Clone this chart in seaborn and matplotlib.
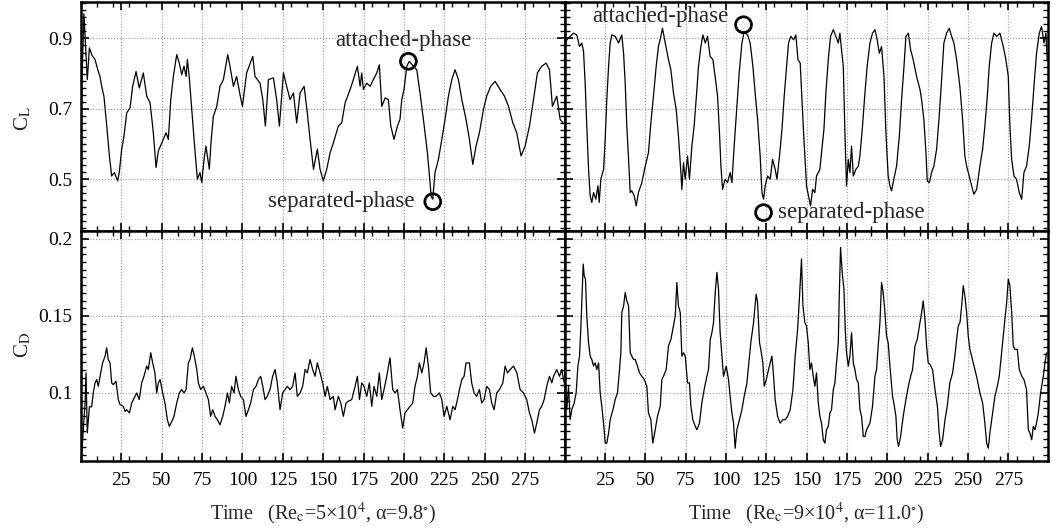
import numpy as np
import pandas as pd
import matplotlib
matplotlib.use("Agg")
import matplotlib.pyplot as plt
from matplotlib.ticker import FixedLocator, MultipleLocator, FixedFormatter
import seaborn as sns

# ---------------- data ----------------
# Top-left: C_L, Re_c = 5e4, alpha = 9.8 deg
tl_t = [0.3, 1.8, 3.9, 5.2, 6.6, 8.7, 10.7, 11.8, 12.8, 14.2,
        15.5, 17.6, 19.0, 20.7, 22.7, 23.7, 25.2, 26.6, 28.3, 30.4,
        32.0, 34.1, 36.1, 38.6, 40.7, 42.8, 44.8, 46.5, 47.9, 50.0,
        52.7, 54.1, 55.6, 57.2, 59.3, 60.9, 62.4, 63.8, 65.1, 65.9,
        67.1, 68.6, 70.2, 72.1, 73.7, 74.8, 76.2, 77.4, 79.5, 80.5,
        82.0, 84.1, 86.1, 88.2, 90.9, 92.3, 94.4, 96.4, 98.5, 100.0,
        102.6, 106.4, 107.8, 110.9, 112.6, 114.2, 116.1, 119.2, 121.2, 122.9,
        125.4, 127.4, 129.5, 131.6, 133.6, 135.7, 138.2, 140.2, 141.9, 144.0,
        146.4, 148.1, 150.1, 152.2, 154.3, 156.3, 159.4, 161.5, 163.6, 166.7,
        168.7, 171.2, 172.9, 173.9, 174.9, 177.0, 179.1, 181.1, 183.2, 184.8,
        186.3, 188.4, 190.4, 191.9, 193.9, 196.0, 197.6, 198.7, 200.1, 201.8,
        203.4, 205.9, 208.0, 210.0, 212.1, 214.6, 216.9, 217.9, 219.3, 221.4,
        223.5, 225.5, 227.6, 229.7, 231.7, 233.8, 235.9, 238.5, 240.6, 242.7,
        244.7, 246.8, 249.3, 251.3, 253.8, 256.5, 259.6, 262.3, 264.8, 267.5,
        269.9, 272.6, 275.1, 277.8, 280.3, 282.7, 285.4, 288.1, 290.2, 292.0,
        294.7, 296.8, 298.5]
tl_cl = [0.73, 0.97, 0.783, 0.873, 0.854, 0.840, 0.806, 0.792, 0.764, 0.736,
         0.674, 0.566, 0.509, 0.519, 0.495, 0.519, 0.585, 0.622, 0.688, 0.703,
         0.764, 0.806, 0.759, 0.802, 0.736, 0.717, 0.632, 0.533, 0.580, 0.603,
         0.632, 0.613, 0.726, 0.792, 0.854, 0.830, 0.797, 0.821, 0.792, 0.840,
         0.788, 0.698, 0.603, 0.500, 0.519, 0.490, 0.556, 0.594, 0.528, 0.603,
         0.679, 0.707, 0.764, 0.783, 0.854, 0.821, 0.764, 0.792, 0.740, 0.707,
         0.802, 0.849, 0.792, 0.773, 0.726, 0.651, 0.783, 0.788, 0.726, 0.651,
         0.802, 0.764, 0.726, 0.745, 0.660, 0.745, 0.764, 0.688, 0.613, 0.528,
         0.585, 0.528, 0.495, 0.528, 0.575, 0.603, 0.651, 0.660, 0.717, 0.755,
         0.783, 0.821, 0.764, 0.802, 0.755, 0.773, 0.764, 0.783, 0.802, 0.825,
         0.707, 0.731, 0.726, 0.651, 0.613, 0.651, 0.670, 0.726, 0.755, 0.821,
         0.835, 0.821, 0.811, 0.745, 0.670, 0.575, 0.452, 0.443, 0.519, 0.556,
         0.613, 0.670, 0.736, 0.783, 0.811, 0.783, 0.726, 0.670, 0.613, 0.542,
         0.594, 0.632, 0.698, 0.736, 0.764, 0.778, 0.755, 0.736, 0.707, 0.660,
         0.632, 0.566, 0.594, 0.651, 0.726, 0.802, 0.821, 0.830, 0.811, 0.707,
         0.736, 0.670, 0.660]

# Top-right: C_L, Re_c = 9e4, alpha = 11.0 deg
tr_t = [0.0, 1.4, 3.5, 5.6, 7.6, 9.3, 10.7, 11.8, 12.8, 13.8,
        14.9, 15.9, 16.9, 18.0, 19.4, 20.7, 21.5, 22.5, 24.2, 25.2,
        26.2, 27.3, 28.3, 29.3, 31.4, 33.5, 35.5, 36.6, 37.6, 38.6,
        39.7, 40.7, 41.7, 43.2, 44.4, 45.8, 47.9, 50.0, 52.0, 53.5,
        55.1, 56.8, 58.2, 59.7, 60.7, 62.4, 64.4, 65.9, 67.5, 69.2,
        70.6, 72.1, 72.7, 73.7, 74.8, 76.2, 77.4, 78.9, 80.3, 82.0,
        83.0, 84.5, 85.7, 87.2, 88.6, 90.2, 91.9, 93.3, 94.8, 96.0,
        96.9, 97.9, 99.5, 101.0, 102.6, 103.7, 105.1, 106.8, 108.2, 109.9,
        111.3, 113.4, 115.0, 116.7, 118.1, 119.6, 121.2, 122.3, 123.3, 124.3,
        125.8, 127.4, 128.9, 130.5, 131.6, 133.2, 134.7, 136.1, 137.4, 138.8,
        140.2, 141.9, 143.3, 144.6, 146.0, 148.1, 149.9, 151.6, 152.4, 153.7,
        155.1, 156.1, 157.2, 158.2, 159.2, 160.7, 161.9, 163.4, 164.8, 166.5,
        168.1, 169.6, 170.6, 171.6, 172.7, 173.7, 174.7, 175.8, 176.8, 177.8,
        178.9, 180.5, 182.0, 183.0, 184.6, 186.1, 187.5, 189.2, 190.8, 192.3,
        193.7, 195.0, 196.4, 197.9, 199.1, 200.5, 201.6, 202.6, 204.0, 205.7,
        207.4, 208.8, 210.3, 211.5, 213.0, 214.4, 216.0, 218.1, 220.2, 221.2,
        222.6, 223.9, 224.7, 226.0, 227.4, 228.8, 230.5, 232.1, 233.6, 235.0,
        236.7, 238.3, 239.8, 241.2, 242.9, 244.9, 246.6, 248.0, 249.1, 250.7,
        252.2, 253.6, 255.3, 257.3, 259.0, 260.4, 261.9, 263.1, 264.6, 266.0,
        267.7, 269.7, 271.8, 273.4, 274.9, 275.9, 277.0, 278.4, 280.0, 281.7,
        283.2, 284.6, 286.2, 287.9, 289.3, 290.8, 292.4, 294.1, 295.5, 297.0,
        298.2, 299.0]
tr_cl = [0.877, 0.896, 0.906, 0.915, 0.910, 0.877, 0.887, 0.863, 0.773, 0.651,
         0.528, 0.452, 0.434, 0.462, 0.443, 0.481, 0.434, 0.500, 0.528, 0.613,
         0.726, 0.821, 0.887, 0.910, 0.906, 0.887, 0.910, 0.858, 0.773, 0.651,
         0.556, 0.462, 0.467, 0.452, 0.424, 0.462, 0.490, 0.537, 0.575, 0.660,
         0.736, 0.821, 0.877, 0.906, 0.929, 0.887, 0.840, 0.811, 0.745, 0.698,
         0.622, 0.519, 0.471, 0.547, 0.500, 0.566, 0.500, 0.594, 0.651, 0.755,
         0.821, 0.877, 0.910, 0.887, 0.906, 0.849, 0.840, 0.792, 0.736, 0.632,
         0.537, 0.471, 0.500, 0.490, 0.519, 0.490, 0.594, 0.707, 0.802, 0.887,
         0.920, 0.910, 0.887, 0.821, 0.745, 0.670, 0.566, 0.462, 0.443, 0.481,
         0.509, 0.500, 0.556, 0.528, 0.500, 0.566, 0.641, 0.736, 0.811, 0.887,
         0.906, 0.896, 0.910, 0.840, 0.830, 0.632, 0.481, 0.443, 0.424, 0.471,
         0.462, 0.509, 0.519, 0.528, 0.575, 0.641, 0.745, 0.840, 0.906, 0.925,
         0.906, 0.887, 0.915, 0.868, 0.821, 0.632, 0.481, 0.556, 0.519, 0.594,
         0.509, 0.528, 0.537, 0.566, 0.651, 0.745, 0.821, 0.887, 0.915, 0.925,
         0.896, 0.858, 0.877, 0.792, 0.632, 0.509, 0.481, 0.467, 0.500, 0.537,
         0.622, 0.726, 0.821, 0.906, 0.915, 0.868, 0.840, 0.792, 0.755, 0.726,
         0.670, 0.575, 0.495, 0.490, 0.519, 0.537, 0.585, 0.679, 0.783, 0.887,
         0.915, 0.929, 0.906, 0.887, 0.840, 0.764, 0.670, 0.566, 0.537, 0.509,
         0.481, 0.457, 0.471, 0.537, 0.585, 0.651, 0.736, 0.821, 0.887, 0.915,
         0.906, 0.915, 0.877, 0.840, 0.792, 0.651, 0.556, 0.509, 0.500, 0.462,
         0.443, 0.519, 0.537, 0.594, 0.670, 0.764, 0.858, 0.915, 0.934, 0.887,
         0.915, 0.840]

# Bottom-left: C_D, Re_c = 5e4
bl_t = [0.4, 1.4, 2.5, 3.1, 3.9, 5.2, 6.6, 7.6, 8.7, 9.7,
        10.7, 12.2, 13.4, 14.9, 15.9, 16.9, 18.0, 19.0, 20.0, 21.7,
        23.1, 24.2, 26.2, 27.3, 28.3, 30.0, 31.4, 33.5, 34.5, 36.1,
        37.6, 39.0, 40.7, 41.7, 43.2, 44.4, 45.8, 46.9, 47.9, 49.0,
        50.6, 52.0, 53.5, 54.7, 56.2, 57.6, 59.3, 60.9, 62.4, 63.8,
        65.1, 66.5, 67.5, 69.0, 70.2, 71.7, 72.7, 74.1, 75.8, 77.4,
        78.9, 80.3, 81.6, 83.0, 84.5, 86.1, 87.8, 89.2, 90.7, 91.9,
        93.3, 94.8, 96.0, 97.5, 98.9, 100.6, 102.2, 103.7, 105.1, 106.8,
        108.4, 109.9, 111.3, 112.6, 114.0, 115.4, 117.1, 118.7, 120.2, 121.6,
        123.3, 124.9, 126.4, 127.8, 129.5, 131.1, 132.6, 134.0, 135.7, 137.3,
        138.8, 140.2, 141.9, 143.5, 145.0, 146.4, 148.1, 149.7, 151.2, 152.6,
        154.3, 156.3, 157.4, 159.4, 160.9, 162.5, 164.2, 165.6, 167.7, 169.8,
        171.2, 172.5, 173.9, 175.3, 177.0, 178.6, 180.1, 181.5, 183.2, 184.8,
        186.3, 187.7, 189.4, 191.4, 193.1, 194.5, 196.0, 197.6, 199.3, 200.7,
        202.2, 203.8, 205.5, 206.9, 208.4, 209.6, 211.1, 212.5, 213.8, 215.2,
        216.6, 218.3, 219.9, 222.0, 223.5, 224.9, 226.6, 228.6, 230.3, 231.7,
        233.2, 234.4, 235.9, 237.3, 238.5, 240.6, 242.0, 243.5, 245.1, 246.8,
        248.2, 249.7, 251.3, 253.0, 254.4, 255.9, 257.5, 259.2, 261.3, 262.7,
        264.2, 265.8, 267.9, 270.0, 272.0, 274.1, 276.1, 277.8, 279.2, 280.9,
        282.3, 284.0, 285.4, 286.9, 288.5, 290.2, 291.6, 292.7, 294.7, 296.4,
        297.8, 299.3]
bl_cd = [0.059, 0.076, 0.093, 0.113, 0.074, 0.091, 0.091, 0.100, 0.1065, 0.1087,
         0.1043, 0.113, 0.1195, 0.1239, 0.1293, 0.1217, 0.1195, 0.1065, 0.1054, 0.1076,
         0.0957, 0.0924, 0.0913, 0.088, 0.0891, 0.087, 0.0935, 0.0978, 0.100, 0.0957,
         0.1065, 0.1108, 0.1174, 0.1152, 0.1261, 0.1195, 0.113, 0.100, 0.1065, 0.1087,
         0.100, 0.0935, 0.0826, 0.0783, 0.0815, 0.0848, 0.0935, 0.100, 0.1022, 0.100,
         0.1022, 0.1195, 0.1217, 0.1293, 0.1239, 0.1152, 0.1065, 0.1022, 0.1043, 0.100,
         0.0957, 0.0848, 0.0891, 0.0848, 0.0826, 0.0793, 0.0848, 0.0913, 0.100, 0.0935,
         0.1043, 0.100, 0.1108, 0.1022, 0.0978, 0.0957, 0.0848, 0.0891, 0.0935, 0.1022,
         0.1043, 0.1087, 0.1108, 0.1043, 0.0957, 0.0978, 0.1022, 0.1108, 0.1152, 0.1065,
         0.0891, 0.100, 0.1022, 0.1043, 0.1022, 0.1043, 0.113, 0.0978, 0.100, 0.1043,
         0.1152, 0.113, 0.1217, 0.1152, 0.1108, 0.1195, 0.113, 0.1065, 0.0978, 0.1043,
         0.0957, 0.0978, 0.0891, 0.0978, 0.0935, 0.0848, 0.0935, 0.0946, 0.0957, 0.1043,
         0.1108, 0.0957, 0.1065, 0.1043, 0.0978, 0.1065, 0.0913, 0.1043, 0.0978, 0.113,
         0.0957, 0.1022, 0.1108, 0.1228, 0.1022, 0.100, 0.1022, 0.0891, 0.0772, 0.087,
         0.0891, 0.0913, 0.0935, 0.1043, 0.1108, 0.1195, 0.113, 0.1195, 0.1293, 0.1174,
         0.100, 0.0978, 0.0978, 0.100, 0.0957, 0.0848, 0.0913, 0.0826, 0.0913, 0.0891,
         0.0957, 0.1022, 0.1087, 0.1108, 0.1195, 0.1195, 0.1065, 0.100, 0.0978, 0.1022,
         0.0935, 0.0957, 0.1043, 0.1022, 0.0935, 0.0891, 0.100, 0.1022, 0.1065, 0.1174,
         0.113, 0.1152, 0.1174, 0.113, 0.1022, 0.100, 0.0957, 0.087, 0.0826, 0.0739,
         0.0804, 0.0891, 0.0913, 0.0957, 0.1043, 0.1108, 0.1065, 0.1108, 0.1152, 0.1108,
         0.1152, 0.1065]

# Bottom-right: C_D, Re_c = 9e4
br_t = [0.4, 1.4, 2.5, 3.5, 4.5, 6.0, 7.2, 8.3, 9.3, 10.1,
        10.9, 11.6, 12.2, 13.0, 13.8, 14.9, 15.9, 16.9, 18.0, 19.0,
        20.0, 21.1, 22.1, 23.1, 24.2, 25.2, 26.2, 27.3, 28.3, 30.0,
        31.4, 32.8, 34.1, 34.9, 35.5, 36.6, 37.6, 38.6, 39.7, 40.7,
        41.7, 42.8, 43.8, 45.2, 46.5, 47.9, 49.4, 51.0, 52.0, 53.5,
        54.7, 56.2, 57.6, 59.3, 60.3, 61.3, 63.0, 64.4, 65.9, 67.5,
        68.6, 69.6, 70.6, 71.7, 72.7, 73.7, 74.8, 76.2, 77.4, 78.3,
        79.5, 81.0, 82.0, 83.6, 85.1, 86.5, 88.2, 89.2, 90.3, 91.3,
        92.3, 93.3, 94.4, 95.4, 96.4, 97.5, 98.5, 100.2, 101.6, 102.6,
        103.7, 104.7, 105.7, 106.8, 108.4, 109.9, 111.3, 113.0, 114.6, 115.4,
        117.1, 118.7, 119.6, 120.8, 121.6, 122.9, 123.7, 125.0, 126.4, 127.4,
        128.5, 129.5, 130.5, 132.0, 133.6, 135.3, 136.7, 138.2, 139.8, 141.5,
        142.9, 144.4, 145.6, 146.8, 147.7, 148.9, 149.9, 151.0, 152.0, 153.0,
        154.1, 155.1, 156.1, 157.2, 158.2, 159.2, 160.3, 161.3, 162.3, 163.4,
        164.4, 165.4, 166.5, 167.5, 168.5, 169.6, 170.2, 171.0, 172.0, 173.1,
        173.9, 174.7, 175.8, 176.8, 177.8, 178.9, 179.9, 180.9, 182.0, 183.0,
        184.0, 185.1, 186.1, 187.1, 189.2, 190.8, 192.3, 193.3, 194.3, 195.4,
        196.4, 197.4, 198.5, 199.5, 200.5, 201.6, 203.2, 204.0, 205.3, 206.1,
        206.9, 208.2, 209.8, 211.5, 213.0, 214.4, 215.6, 217.1, 218.5, 220.2,
        221.2, 222.2, 223.3, 224.3, 225.3, 226.4, 228.0, 229.5, 231.0, 232.1,
        233.0, 234.2, 235.7, 237.1, 238.7, 240.4, 241.8, 242.9, 243.9, 245.0,
        246.0, 247.0, 248.0, 249.1, 250.1, 251.1, 252.2, 254.2, 255.7, 257.3,
        259.0, 260.4, 261.5, 262.5, 263.5, 265.2, 266.6, 268.1, 269.3, 270.8,
        271.8, 272.8, 273.9, 274.9, 275.9, 277.0, 278.0, 279.0, 280.5, 281.7,
        283.3, 284.6, 286.2, 287.3, 288.3, 289.4, 290.4, 291.4, 292.4, 293.5,
        294.9, 296.6, 297.6, 298.6]
br_cd = [0.1087, 0.0891, 0.1043, 0.0826, 0.0891, 0.0935, 0.100, 0.1174, 0.1239, 0.1413,
         0.163, 0.1837, 0.1761, 0.1739, 0.150, 0.1326, 0.1239, 0.1217, 0.1174, 0.1195,
         0.1152, 0.1195, 0.100, 0.0913, 0.0804, 0.0674, 0.0674, 0.0739, 0.0826, 0.0891,
         0.0957, 0.100, 0.1152, 0.1261, 0.1522, 0.1565, 0.1652, 0.1598, 0.1565, 0.1261,
         0.1239, 0.1217, 0.1217, 0.1174, 0.113, 0.1108, 0.1087, 0.1043, 0.087, 0.0826,
         0.0674, 0.0761, 0.0848, 0.0913, 0.1087, 0.1108, 0.1152, 0.1304, 0.1348, 0.1435,
         0.150, 0.1717, 0.1565, 0.1522, 0.1239, 0.1261, 0.1239, 0.1065, 0.1065, 0.0913,
         0.0826, 0.0783, 0.0761, 0.0804, 0.0935, 0.1022, 0.1108, 0.1152, 0.1348, 0.1391,
         0.1457, 0.1641, 0.1783, 0.1674, 0.1391, 0.1239, 0.1108, 0.1174, 0.1087, 0.0978,
         0.087, 0.0804, 0.0641, 0.0761, 0.0826, 0.0891, 0.0978, 0.1065, 0.1239, 0.1326,
         0.1457, 0.1641, 0.1587, 0.1326, 0.1283, 0.1195, 0.1043, 0.1087, 0.1152, 0.1195,
         0.1239, 0.1108, 0.0957, 0.0848, 0.0804, 0.0826, 0.0826, 0.0848, 0.0891, 0.1022,
         0.1239, 0.1413, 0.163, 0.187, 0.1565, 0.1457, 0.1435, 0.1326, 0.1152, 0.1195,
         0.1108, 0.1043, 0.113, 0.0935, 0.0848, 0.0804, 0.0696, 0.0674, 0.0761, 0.0783,
         0.087, 0.0891, 0.1022, 0.1065, 0.1195, 0.1326, 0.163, 0.1945, 0.1783, 0.1674,
         0.1413, 0.1261, 0.1174, 0.1239, 0.1391, 0.1195, 0.1152, 0.1087, 0.1065, 0.0891,
         0.0848, 0.0717, 0.0717, 0.0761, 0.0804, 0.0913, 0.1108, 0.1152, 0.1304, 0.1457,
         0.1717, 0.1652, 0.1522, 0.137, 0.1326, 0.1174, 0.0978, 0.0935, 0.0848, 0.0696,
         0.0652, 0.0717, 0.0848, 0.0957, 0.1043, 0.1108, 0.1152, 0.1304, 0.1348, 0.1457,
         0.1522, 0.1598, 0.1478, 0.1304, 0.1195, 0.1185, 0.1152, 0.1022, 0.0913, 0.0739,
         0.0652, 0.0696, 0.0826, 0.0913, 0.1065, 0.113, 0.1239, 0.1348, 0.1435, 0.1457,
         0.1565, 0.1696, 0.163, 0.1522, 0.137, 0.1283, 0.1239, 0.1152, 0.1087, 0.100,
         0.0935, 0.0804, 0.0674, 0.0641, 0.0739, 0.087, 0.0978, 0.1043, 0.1108, 0.1261,
         0.137, 0.1478, 0.1587, 0.1739, 0.1696, 0.1522, 0.1304, 0.1283, 0.1283, 0.1152,
         0.1108, 0.1087, 0.1022, 0.0761, 0.0739, 0.0696, 0.0783, 0.0761, 0.0804, 0.087,
         0.100, 0.1108, 0.1195, 0.1261]

# Annotated phase points (time, C_L)
tl_attached = (202.8, 0.835)
tl_separated = (217.9, 0.436)
tr_attached = (110.9, 0.939)
tr_separated = (123.3, 0.405)
phase_labels = ["attached-phase", "separated-phase"]

x_ticks = [25, 50, 75, 100, 125, 150, 175, 200, 225, 250, 275]
cl_ticks = [0.5, 0.7, 0.9]
cl_ticklabels = ["0.5", "0.7", "0.9"]
cd_ticks = [0.1, 0.15, 0.2]
cd_ticklabels = ["0.1", "0.15", "0.2"]
xlabels = [r"Time   (Re$_\mathrm{c}$=5×10$^4$, α=9.8$^{\circ}$)",
           r"Time   (Re$_\mathrm{c}$=9×10$^4$, α=11.0$^{\circ}$)"]

# ---------------- styling ----------------
sns.set_style("white")
plt.rcParams["font.family"] = ["Liberation Serif", "DejaVu Serif"]
plt.rcParams["mathtext.fontset"] = "stix"
plt.rcParams["axes.linewidth"] = 1.8

fig, axes = plt.subplots(2, 2, figsize=(10.52, 5.29), dpi=100,
                         sharex=True, sharey="row")
fig.subplots_adjust(left=81/1052, right=1048/1052, top=1-1.5/529,
                    bottom=1-461/529, wspace=0, hspace=0)

panels = [
    (axes[0, 0], tl_t, tl_cl, "CL"),
    (axes[0, 1], tr_t, tr_cl, "CL"),
    (axes[1, 0], bl_t, bl_cd, "CD"),
    (axes[1, 1], br_t, br_cd, "CD"),
]
for ax, t, v, name in panels:
    df = pd.DataFrame({"Time": t, name: v})
    sns.lineplot(data=df, x="Time", y=name, ax=ax, color="black",
                 linewidth=0.9, estimator=None, sort=False)
    ax.set_xlabel("")
    ax.set_ylabel("")
    ax.set_xlim(0, 299.5)
    ax.xaxis.set_major_locator(FixedLocator(x_ticks))
    ax.xaxis.set_minor_locator(MultipleLocator(10))
    ax.grid(True, which="major", color="#9a9a9a", linestyle=":", linewidth=0.8)
    ax.tick_params(which="both", direction="in", top=True, right=True,
                   bottom=True, left=True, colors="black", labelsize=14)
    ax.tick_params(which="major", length=6, width=1.2)
    ax.tick_params(which="minor", length=3.5, width=1.0)
    ax.tick_params(axis="x", pad=8)
    ax.tick_params(axis="y", pad=6)
    for s in ax.spines.values():
        s.set_color("black")
        s.set_linewidth(1.8)

for ax in axes[0]:
    ax.set_ylim(0.352, 1.005)
    ax.yaxis.set_major_locator(FixedLocator(cl_ticks))
    ax.yaxis.set_major_formatter(FixedFormatter(cl_ticklabels))
    ax.yaxis.set_minor_locator(MultipleLocator(0.02))
    ax.tick_params(labelbottom=False)
for ax in axes[1]:
    ax.set_ylim(0.0558, 0.205)
    ax.yaxis.set_major_locator(FixedLocator(cd_ticks))
    ax.yaxis.set_major_formatter(FixedFormatter(cd_ticklabels))
    ax.yaxis.set_minor_locator(MultipleLocator(0.005))
for ax in axes[:, 1]:
    ax.tick_params(labelleft=False)

for ax, lab in zip(axes[1], xlabels):
    ax.set_xlabel(lab, fontsize=14.5)
    ax.xaxis.set_label_coords(0.5, -0.175)

fig.text(23/1052, 1-118/529, r"C$_\mathrm{L}$", rotation=90, ha="center",
         va="center", fontsize=15)
fig.text(23/1052, 1-345/529, r"C$_\mathrm{D}$", rotation=90, ha="center",
         va="center", fontsize=15)

# phase markers
for ax, pts in [(axes[0, 0], [tl_attached, tl_separated]),
                (axes[0, 1], [tr_attached, tr_separated])]:
    mdf = pd.DataFrame({"Time": [p[0] for p in pts], "CL": [p[1] for p in pts]})
    sns.scatterplot(data=mdf, x="Time", y="CL", ax=ax, s=130,
                    facecolor="none", edgecolor="black", linewidth=2, zorder=5)
    ax.set_xlabel("") if ax is not None else None
    ax.set_ylabel("")

tsize = 16.5
axes[0, 0].text(200.0, 0.893, phase_labels[0], ha="center", va="center", fontsize=tsize)
axes[0, 0].text(161.1, 0.437, phase_labels[1], ha="center", va="center", fontsize=tsize)
axes[0, 1].text(59.2, 0.961, phase_labels[0], ha="center", va="center", fontsize=tsize)
axes[0, 1].text(177.8, 0.404, phase_labels[1], ha="center", va="center", fontsize=tsize)

fig.savefig("out.png", dpi=100)
